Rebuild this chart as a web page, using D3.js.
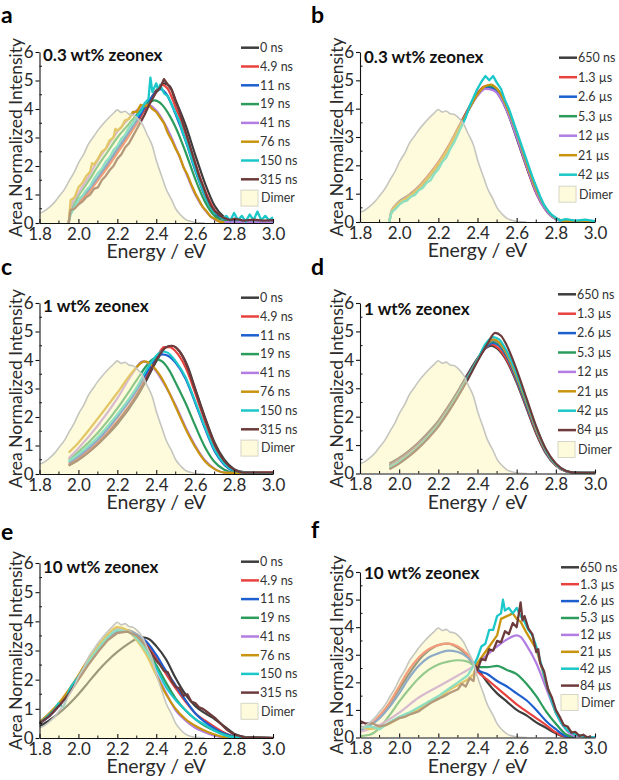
<!DOCTYPE html>
<html><head><meta charset="utf-8">
<script src="https://cdn.jsdelivr.net/npm/d3@7/dist/d3.min.js"></script>
<style>
body{margin:0;background:#fff}
svg{display:block}
text{font-family:Lato,"Open Sans",sans-serif}
</style>
</head><body>
<svg id="chart" width="619" height="780"></svg>
<script>
// ---------- shared values ----------
const xTicks = [1.8, 2.0, 2.2, 2.4, 2.6, 2.8, 3.0];
const xMinor = [1.9, 2.1, 2.3, 2.5, 2.7, 2.9];
const yTicks = [0, 1, 2, 3, 4, 5, 6];
const yMinor = [0.5, 1.5, 2.5, 3.5, 4.5, 5.5];
const nsLabels = ["0 ns", "4.9 ns", "11 ns", "19 ns", "41 ns", "76 ns", "150 ns", "315 ns"];
const usLabels7 = ["650 ns", "1.3 µs", "2.6 µs", "5.3 µs", "12 µs", "21 µs", "42 µs"];
const usLabels8 = ["650 ns", "1.3 µs", "2.6 µs", "5.3 µs", "12 µs", "21 µs", "42 µs", "84 µs"];
const colors = ["#3d3d3d", "#e8423e", "#1e5fcf", "#2c9c5c", "#b27de2", "#c9950f", "#1cc7c9", "#6d3b3b"];
const titles = ["0.3 wt% zeonex", "0.3 wt% zeonex", "1 wt% zeonex", "1 wt% zeonex", "10 wt% zeonex", "10 wt% zeonex"];

// Dimer reference spectrum (same in every panel)
const dimer = [[1.8,0.35],[1.82,0.4],[1.85,0.55],[1.88,0.75],[1.9,0.93],[1.93,1.2],[1.95,1.45],[1.98,1.8],[2.0,2.1],[2.03,2.45],[2.05,2.75],[2.08,3.05],[2.1,3.25],[2.13,3.5],[2.15,3.65],[2.18,3.85],[2.2,3.97],[2.22,3.88],[2.24,3.92],[2.26,3.82],[2.28,3.8],[2.3,3.7],[2.33,3.45],[2.35,3.15],[2.38,2.7],[2.4,2.2],[2.43,1.6],[2.45,1.2],[2.48,0.8],[2.5,0.5],[2.53,0.25],[2.55,0.13],[2.58,0.05],[2.6,0.02],[2.65,0]];

// ---------- panel a : 0.3 wt%, ns ----------
const pa0 = [[1.95,0],[1.96,0.45],[1.98,0.6],[2.0,0.75],[2.05,1.1],[2.1,1.55],[2.15,2.0],[2.2,2.5],[2.25,3.0],[2.3,3.5],[2.35,4.1],[2.4,4.65],[2.44,4.9],[2.47,4.8],[2.5,4.3],[2.55,3.45],[2.6,2.4],[2.65,1.4],[2.7,0.6],[2.75,0.2],[2.8,0.07],[2.9,0.05],[3.0,0.05]];
const pa1 = [[1.95,0],[1.96,0.4],[1.98,0.55],[2.0,0.7],[2.05,1.05],[2.1,1.5],[2.15,1.95],[2.2,2.45],[2.25,2.95],[2.3,3.5],[2.35,4.1],[2.4,4.6],[2.43,4.85],[2.46,4.7],[2.5,4.05],[2.55,3.15],[2.6,2.1],[2.65,1.15],[2.7,0.45],[2.75,0.15],[2.8,0.06],[3.0,0.05]];
const pa2 = [[1.95,0],[1.96,0.45],[2.0,0.8],[2.05,1.15],[2.1,1.6],[2.15,2.1],[2.2,2.6],[2.25,3.1],[2.3,3.6],[2.35,4.15],[2.4,4.6],[2.42,4.7],[2.45,4.55],[2.5,3.8],[2.55,2.9],[2.6,1.85],[2.65,0.95],[2.7,0.35],[2.75,0.1],[2.8,0.05],[3.0,0.05]];
const pa3 = [[1.95,0],[1.96,0.5],[1.98,0.7],[2.0,0.95],[2.05,1.45],[2.1,2.0],[2.15,2.5],[2.2,3.0],[2.25,3.4],[2.3,3.8],[2.35,4.15],[2.39,4.3],[2.43,4.15],[2.47,3.75],[2.5,3.35],[2.55,2.5],[2.6,1.55],[2.65,0.75],[2.7,0.25],[2.75,0.08],[2.8,0.04],[3.0,0.04]];
const pa4 = [[1.95,0],[1.96,0.55],[2.0,1.05],[2.05,1.6],[2.1,2.2],[2.15,2.7],[2.2,3.2],[2.25,3.6],[2.3,3.95],[2.36,4.15],[2.4,3.95],[2.45,3.4],[2.5,2.65],[2.55,1.8],[2.6,1.0],[2.65,0.45],[2.7,0.12],[2.75,0.03],[3.0,0.02]];
const pa5 = [[1.95,0],[1.96,0.8],[1.98,0.9],[2.0,1.25],[2.02,1.4],[2.04,1.65],[2.06,1.8],[2.07,2.1],[2.08,2.05],[2.1,2.25],[2.12,2.5],[2.14,2.6],[2.16,2.9],[2.18,3.0],[2.19,3.3],[2.2,3.25],[2.22,3.35],[2.24,3.6],[2.26,3.65],[2.28,3.9],[2.3,3.9],[2.32,4.15],[2.34,4.1],[2.36,4.15],[2.38,4.0],[2.4,3.9],[2.42,3.7],[2.44,3.5],[2.46,3.15],[2.48,2.9],[2.5,2.6],[2.52,2.35],[2.54,1.95],[2.56,1.7],[2.58,1.35],[2.6,1.05],[2.62,0.8],[2.64,0.55],[2.66,0.4],[2.68,0.22],[2.7,0.15],[2.72,0.06],[2.75,0.02]];
const pa6 = [[1.95,0],[1.96,0.3],[1.98,0.55],[2.0,0.8],[2.02,0.95],[2.04,1.15],[2.06,1.3],[2.08,1.55],[2.1,1.75],[2.12,1.9],[2.14,2.15],[2.16,2.3],[2.18,2.55],[2.2,2.7],[2.22,2.95],[2.24,3.1],[2.26,3.35],[2.28,3.5],[2.3,3.75],[2.32,3.9],[2.34,4.2],[2.36,4.35],[2.37,5.1],[2.38,4.6],[2.4,4.9],[2.41,4.65],[2.42,4.85],[2.44,4.55],[2.46,4.45],[2.48,4.15],[2.5,3.85],[2.52,3.55],[2.54,3.1],[2.56,2.75],[2.58,2.3],[2.6,1.9],[2.62,1.5],[2.64,1.15],[2.66,0.8],[2.68,0.55],[2.7,0.35],[2.72,0.3],[2.74,0.15],[2.76,0.25],[2.78,0.08],[2.8,0.35],[2.82,0.1],[2.84,0.25],[2.86,0.05],[2.88,0.3],[2.9,0.1],[2.92,0.4],[2.94,0.1],[2.96,0.25],[2.98,0.1],[3.0,0.2]];
const pa7 = [[1.95,0],[1.96,0.45],[1.98,0.5],[2.0,0.65],[2.02,0.75],[2.04,0.9],[2.06,1.0],[2.08,1.2],[2.1,1.25],[2.12,1.5],[2.14,1.65],[2.16,1.85],[2.18,2.0],[2.2,2.25],[2.22,2.4],[2.24,2.65],[2.26,2.8],[2.28,3.05],[2.3,3.3],[2.32,3.55],[2.34,3.8],[2.36,4.1],[2.38,4.35],[2.4,4.6],[2.42,4.75],[2.44,5.05],[2.46,4.85],[2.48,4.65],[2.5,4.25],[2.52,3.9],[2.54,3.45],[2.56,3.0],[2.58,2.55],[2.6,2.1],[2.62,1.65],[2.64,1.3],[2.66,0.92],[2.68,0.62],[2.7,0.42],[2.72,0.3],[2.74,0.2],[2.76,0.15],[2.78,0.1],[2.8,0.15],[2.85,0.08],[2.9,0.12],[2.95,0.08],[3.0,0.1]];

// ---------- panel b : 0.3 wt%, µs ----------
const pb0 = [[1.95,0],[1.96,0.35],[2.0,0.72],[2.05,0.95],[2.1,1.25],[2.15,1.65],[2.2,2.1],[2.25,2.65],[2.3,3.3],[2.35,3.95],[2.4,4.5],[2.44,4.75],[2.48,4.7],[2.52,4.35],[2.56,3.75],[2.6,2.95],[2.65,1.95],[2.7,1.05],[2.75,0.45],[2.8,0.12],[2.85,0.03],[3.0,0.02]];
const pb1 = [[1.95,0],[1.96,0.4],[2.0,0.7],[2.05,0.95],[2.1,1.25],[2.15,1.65],[2.2,2.1],[2.25,2.65],[2.3,3.3],[2.35,3.95],[2.4,4.55],[2.44,4.8],[2.48,4.75],[2.52,4.4],[2.56,3.8],[2.6,3.0],[2.65,1.95],[2.7,1.0],[2.75,0.4],[2.8,0.1],[2.85,0.02],[3.0,0.02]];
const pb2 = [[1.95,0],[1.96,0.35],[2.0,0.7],[2.05,0.92],[2.1,1.22],[2.15,1.6],[2.2,2.05],[2.25,2.6],[2.3,3.25],[2.35,3.9],[2.4,4.5],[2.44,4.75],[2.48,4.72],[2.52,4.4],[2.56,3.8],[2.6,3.0],[2.65,2.0],[2.7,1.05],[2.75,0.42],[2.8,0.11],[2.85,0.03],[3.0,0.02]];
const pb3 = [[1.95,0],[1.96,0.3],[2.0,0.62],[2.05,0.85],[2.1,1.15],[2.15,1.55],[2.2,2.0],[2.25,2.55],[2.3,3.2],[2.35,3.9],[2.4,4.5],[2.45,4.8],[2.49,4.75],[2.53,4.4],[2.57,3.75],[2.6,3.1],[2.65,2.05],[2.7,1.1],[2.75,0.45],[2.8,0.12],[2.85,0.03],[3.0,0.02]];
const pb4 = [[1.95,0],[1.96,0.35],[2.0,0.68],[2.05,0.9],[2.1,1.2],[2.15,1.6],[2.2,2.05],[2.25,2.6],[2.3,3.25],[2.35,3.9],[2.4,4.45],[2.44,4.7],[2.48,4.65],[2.52,4.35],[2.56,3.75],[2.6,3.0],[2.65,2.0],[2.7,1.05],[2.75,0.42],[2.8,0.11],[2.85,0.03],[3.0,0.02]];
const pb5 = [[1.95,0],[1.96,0.35],[2.0,0.68],[2.05,0.9],[2.1,1.2],[2.15,1.6],[2.2,2.05],[2.25,2.6],[2.3,3.25],[2.35,3.9],[2.4,4.5],[2.44,4.8],[2.47,4.85],[2.51,4.6],[2.55,4.05],[2.6,3.15],[2.65,2.1],[2.7,1.15],[2.75,0.48],[2.8,0.13],[2.85,0.03],[3.0,0.02]];
const pb6 = [[1.95,0],[1.96,0.35],[1.98,0.45],[2.0,0.6],[2.02,0.72],[2.04,0.75],[2.06,0.9],[2.08,0.95],[2.1,1.12],[2.12,1.2],[2.14,1.38],[2.16,1.47],[2.18,1.7],[2.2,1.85],[2.22,2.12],[2.24,2.27],[2.26,2.57],[2.28,2.8],[2.3,3.1],[2.32,3.4],[2.34,3.7],[2.36,4.1],[2.38,4.4],[2.4,4.7],[2.42,4.95],[2.44,5.15],[2.46,5.0],[2.48,5.15],[2.5,4.9],[2.52,4.7],[2.54,4.3],[2.56,4.0],[2.58,3.6],[2.6,3.2],[2.62,2.8],[2.64,2.4],[2.66,2.0],[2.68,1.6],[2.7,1.25],[2.72,0.9],[2.74,0.6],[2.76,0.4],[2.78,0.25],[2.8,0.15],[2.82,0.05],[2.85,0.1],[2.9,0.05],[2.95,0.08],[3.0,0.03]];

// ---------- panel c : 1 wt%, ns ----------
const pc0 = [[1.95,0.3],[2.0,0.5],[2.1,1.05],[2.2,1.75],[2.3,2.7],[2.35,3.3],[2.4,3.95],[2.45,4.45],[2.48,4.5],[2.52,4.3],[2.56,3.8],[2.6,3.0],[2.65,2.0],[2.7,1.1],[2.75,0.5],[2.8,0.17],[2.85,0.07],[2.9,0.05],[3.0,0.05]];
const pc1 = [[1.95,0.35],[2.0,0.55],[2.1,1.1],[2.2,1.85],[2.3,2.8],[2.35,3.4],[2.4,4.05],[2.44,4.45],[2.47,4.45],[2.5,4.3],[2.55,3.75],[2.6,2.85],[2.65,1.85],[2.7,0.95],[2.75,0.4],[2.8,0.13],[2.85,0.05],[3.0,0.05]];
const pc2 = [[1.95,0.4],[2.0,0.62],[2.1,1.2],[2.2,2.0],[2.3,2.95],[2.35,3.55],[2.4,4.05],[2.43,4.2],[2.46,4.15],[2.5,3.9],[2.55,3.35],[2.6,2.5],[2.65,1.6],[2.7,0.8],[2.75,0.32],[2.8,0.1],[2.85,0.04],[3.0,0.03]];
const pc3 = [[1.95,0.5],[2.0,0.78],[2.1,1.45],[2.2,2.3],[2.3,3.3],[2.35,3.8],[2.39,4.05],[2.43,3.95],[2.47,3.6],[2.5,3.2],[2.55,2.5],[2.6,1.7],[2.65,0.95],[2.7,0.42],[2.75,0.15],[2.8,0.05],[3.0,0.03]];
const pc4 = [[1.95,0.55],[2.0,0.9],[2.1,1.7],[2.2,2.65],[2.28,3.55],[2.33,3.95],[2.37,3.85],[2.4,3.6],[2.45,3.05],[2.5,2.4],[2.55,1.65],[2.6,1.0],[2.65,0.48],[2.7,0.18],[2.75,0.05],[3.0,0.02]];
const pc5 = [[1.95,0.75],[2.0,1.1],[2.1,1.95],[2.2,2.85],[2.28,3.6],[2.34,3.95],[2.38,3.8],[2.42,3.45],[2.46,2.95],[2.5,2.35],[2.55,1.6],[2.6,0.95],[2.65,0.45],[2.7,0.17],[2.75,0.05],[3.0,0.02]];
const pc6 = [[1.95,0.45],[2.0,0.7],[2.1,1.3],[2.2,2.1],[2.3,3.05],[2.35,3.65],[2.4,4.15],[2.43,4.3],[2.46,4.25],[2.5,3.95],[2.55,3.4],[2.6,2.55],[2.65,1.65],[2.7,0.85],[2.75,0.35],[2.8,0.12],[2.85,0.05],[3.0,0.03]];
const pc7 = [[1.95,0.3],[2.0,0.5],[2.1,1.05],[2.2,1.8],[2.3,2.75],[2.35,3.35],[2.4,4.0],[2.45,4.45],[2.48,4.5],[2.52,4.3],[2.56,3.75],[2.6,2.95],[2.65,1.95],[2.7,1.05],[2.75,0.45],[2.8,0.15],[2.85,0.05],[3.0,0.05]];

// ---------- panel d : 1 wt%, µs ----------
const pd0 = [[1.95,0.35],[2.0,0.55],[2.05,0.8],[2.1,1.1],[2.15,1.45],[2.2,1.85],[2.25,2.35],[2.3,2.9],[2.35,3.5],[2.4,4.05],[2.44,4.4],[2.47,4.5],[2.5,4.4],[2.55,3.95],[2.6,3.2],[2.65,2.3],[2.7,1.4],[2.75,0.7],[2.8,0.28],[2.85,0.08],[2.9,0.03],[3.0,0.02]];
const pd1 = [[1.95,0.3],[2.0,0.5],[2.05,0.75],[2.1,1.05],[2.15,1.4],[2.2,1.8],[2.25,2.3],[2.3,2.85],[2.35,3.45],[2.4,4.0],[2.44,4.4],[2.47,4.55],[2.5,4.45],[2.55,4.0],[2.6,3.25],[2.65,2.35],[2.7,1.45],[2.75,0.72],[2.8,0.28],[2.85,0.08],[2.9,0.03],[3.0,0.02]];
const pd2 = [[1.95,0.28],[2.0,0.48],[2.05,0.72],[2.1,1.02],[2.15,1.37],[2.2,1.77],[2.25,2.27],[2.3,2.82],[2.35,3.42],[2.4,4.0],[2.44,4.42],[2.48,4.6],[2.51,4.5],[2.55,4.1],[2.6,3.3],[2.65,2.4],[2.7,1.5],[2.75,0.75],[2.8,0.3],[2.85,0.09],[2.9,0.03],[3.0,0.02]];
const pd3 = [[1.95,0.26],[2.0,0.46],[2.05,0.7],[2.1,1.0],[2.15,1.35],[2.2,1.75],[2.25,2.25],[2.3,2.8],[2.35,3.4],[2.4,4.0],[2.44,4.45],[2.48,4.65],[2.51,4.55],[2.55,4.15],[2.6,3.35],[2.65,2.45],[2.7,1.52],[2.75,0.77],[2.8,0.3],[2.85,0.09],[2.9,0.03],[3.0,0.02]];
const pd4 = [[1.95,0.24],[2.0,0.44],[2.05,0.68],[2.1,0.98],[2.15,1.33],[2.2,1.73],[2.25,2.22],[2.3,2.78],[2.35,3.38],[2.4,4.0],[2.44,4.48],[2.48,4.7],[2.51,4.6],[2.55,4.2],[2.6,3.4],[2.65,2.5],[2.7,1.55],[2.75,0.78],[2.8,0.31],[2.85,0.09],[2.9,0.03],[3.0,0.02]];
const pd5 = [[1.95,0.22],[2.0,0.42],[2.05,0.66],[2.1,0.96],[2.15,1.31],[2.2,1.71],[2.25,2.2],[2.3,2.76],[2.35,3.36],[2.4,4.0],[2.44,4.5],[2.48,4.72],[2.51,4.62],[2.55,4.22],[2.6,3.42],[2.65,2.52],[2.7,1.57],[2.75,0.8],[2.8,0.32],[2.85,0.1],[2.9,0.03],[3.0,0.02]];
const pd6 = [[1.95,0.2],[2.0,0.4],[2.05,0.64],[2.1,0.94],[2.15,1.29],[2.2,1.69],[2.25,2.18],[2.3,2.74],[2.35,3.35],[2.4,4.0],[2.44,4.55],[2.48,4.8],[2.51,4.72],[2.55,4.3],[2.6,3.5],[2.65,2.58],[2.7,1.62],[2.75,0.82],[2.8,0.33],[2.85,0.1],[2.9,0.03],[3.0,0.02]];
const pd7 = [[1.95,0.15],[2.0,0.35],[2.05,0.6],[2.1,0.9],[2.15,1.25],[2.2,1.65],[2.25,2.15],[2.3,2.7],[2.35,3.3],[2.4,3.95],[2.45,4.55],[2.49,4.95],[2.52,4.85],[2.55,4.5],[2.6,3.65],[2.65,2.65],[2.7,1.65],[2.75,0.85],[2.8,0.35],[2.85,0.1],[2.9,0.03],[3.0,0.02]];

// ---------- panel e : 10 wt%, ns ----------
const pe0 = [[1.8,0.4],[1.85,0.6],[1.9,0.85],[1.95,1.15],[2.0,1.5],[2.05,1.9],[2.1,2.3],[2.15,2.65],[2.2,2.95],[2.25,3.2],[2.3,3.4],[2.33,3.45],[2.36,3.4],[2.4,3.15],[2.45,2.7],[2.5,2.05],[2.55,1.5],[2.6,1.1],[2.65,0.85],[2.7,0.65],[2.75,0.4],[2.8,0.15],[2.85,0.04],[2.9,0.01],[3.0,0]];
const pe1 = [[1.8,0.5],[1.85,0.75],[1.9,1.1],[1.95,1.55],[2.0,2.05],[2.05,2.55],[2.1,3.0],[2.15,3.4],[2.2,3.65],[2.25,3.7],[2.3,3.55],[2.35,3.25],[2.4,2.75],[2.45,2.2],[2.5,1.7],[2.55,1.25],[2.6,0.85],[2.65,0.6],[2.7,0.38],[2.75,0.18],[2.8,0.05],[2.85,0.01],[3.0,0]];
const pe2 = [[1.8,0.5],[1.85,0.75],[1.9,1.1],[1.95,1.55],[2.0,2.05],[2.05,2.55],[2.1,3.0],[2.15,3.4],[2.2,3.65],[2.25,3.7],[2.3,3.55],[2.35,3.3],[2.4,2.85],[2.45,2.3],[2.5,1.8],[2.55,1.3],[2.6,0.85],[2.65,0.55],[2.7,0.32],[2.75,0.15],[2.8,0.05],[2.85,0.01],[3.0,0]];
const pe3 = [[1.8,0.5],[1.85,0.8],[1.9,1.15],[1.95,1.6],[2.0,2.1],[2.05,2.65],[2.1,3.1],[2.15,3.5],[2.2,3.75],[2.25,3.7],[2.3,3.45],[2.35,3.05],[2.4,2.5],[2.45,1.9],[2.5,1.35],[2.55,0.95],[2.6,0.65],[2.65,0.42],[2.7,0.25],[2.75,0.12],[2.8,0.04],[3.0,0]];
const pe4 = [[1.8,0.5],[1.85,0.8],[1.9,1.15],[1.95,1.6],[2.0,2.1],[2.05,2.65],[2.1,3.1],[2.15,3.5],[2.2,3.75],[2.25,3.7],[2.3,3.4],[2.35,2.9],[2.4,2.2],[2.45,1.55],[2.5,0.95],[2.55,0.6],[2.6,0.35],[2.65,0.2],[2.7,0.08],[2.75,0.02],[3.0,0]];
const pe5 = [[1.8,0.55],[1.85,0.85],[1.9,1.2],[1.95,1.65],[2.0,2.15],[2.05,2.7],[2.1,3.15],[2.15,3.55],[2.2,3.8],[2.25,3.7],[2.3,3.35],[2.35,2.85],[2.4,2.15],[2.45,1.5],[2.5,1.0],[2.55,0.65],[2.6,0.42],[2.65,0.25],[2.7,0.12],[2.75,0.03],[3.0,0]];
const pe6 = [[1.8,0.5],[1.85,0.8],[1.88,1.0],[1.9,1.2],[1.92,1.05],[1.95,1.6],[2.0,2.1],[2.05,2.6],[2.1,3.05],[2.15,3.45],[2.2,3.7],[2.25,3.65],[2.3,3.4],[2.35,2.95],[2.4,2.4],[2.45,1.75],[2.5,1.3],[2.55,0.95],[2.6,0.65],[2.65,0.45],[2.7,0.25],[2.75,0.1],[2.8,0.03],[3.0,0]];
const pe7 = [[1.8,0.5],[1.85,0.75],[1.9,1.1],[1.95,1.5],[2.0,2.0],[2.05,2.5],[2.1,2.95],[2.15,3.35],[2.2,3.6],[2.25,3.65],[2.3,3.5],[2.35,3.15],[2.4,2.65],[2.42,2.5],[2.44,2.3],[2.46,2.25],[2.48,1.95],[2.5,1.75],[2.52,1.7],[2.54,1.45],[2.56,1.5],[2.58,1.25],[2.6,1.2],[2.62,1.05],[2.64,1.0],[2.66,0.9],[2.68,0.8],[2.7,0.7],[2.73,0.5],[2.76,0.3],[2.8,0.12],[2.85,0.03],[3.0,0]];

// ---------- panel f : 10 wt%, µs ----------
const pf0 = [[1.8,0.3],[1.85,0.45],[1.9,0.75],[1.95,1.2],[2.0,1.75],[2.05,2.3],[2.1,2.8],[2.15,3.15],[2.2,3.35],[2.25,3.4],[2.3,3.25],[2.35,2.95],[2.4,2.5],[2.45,2.0],[2.5,1.6],[2.55,1.3],[2.6,1.0],[2.65,0.8],[2.7,0.55],[2.75,0.35],[2.8,0.15],[2.85,0.02],[2.9,0]];
const pf1 = [[1.8,0.3],[1.85,0.45],[1.9,0.8],[1.95,1.25],[2.0,1.85],[2.05,2.45],[2.1,2.9],[2.15,3.2],[2.2,3.35],[2.25,3.4],[2.3,3.3],[2.35,3.0],[2.4,2.4],[2.45,2.1],[2.5,1.8],[2.55,1.5],[2.6,1.2],[2.65,0.95],[2.7,0.7],[2.75,0.45],[2.8,0.18],[2.85,0.03],[2.9,0]];
const pf2 = [[1.8,0.25],[1.9,0.7],[1.95,1.1],[2.0,1.6],[2.05,2.15],[2.1,2.6],[2.15,2.9],[2.2,3.05],[2.25,3.15],[2.3,3.1],[2.35,2.9],[2.4,2.45],[2.45,2.3],[2.5,2.05],[2.55,1.85],[2.6,1.6],[2.65,1.35],[2.7,1.0],[2.75,0.6],[2.8,0.3],[2.85,0.05],[2.9,0]];
const pf3 = [[1.8,0.05],[1.85,0.1],[1.9,0.35],[1.95,0.8],[2.0,1.3],[2.05,1.75],[2.1,2.15],[2.15,2.45],[2.2,2.65],[2.25,2.75],[2.3,2.8],[2.35,2.75],[2.4,2.55],[2.45,2.55],[2.5,2.6],[2.55,2.45],[2.6,2.3],[2.65,1.95],[2.7,1.5],[2.75,0.95],[2.8,0.5],[2.85,0.12],[2.9,0]];
const pf4 = [[1.8,0.2],[1.9,0.45],[2.0,0.9],[2.1,1.45],[2.2,1.85],[2.3,2.25],[2.35,2.45],[2.4,2.7],[2.45,3.0],[2.5,3.3],[2.55,3.55],[2.6,3.7],[2.62,3.65],[2.65,3.35],[2.7,2.7],[2.75,1.8],[2.8,0.9],[2.85,0.3],[2.9,0.05],[3.0,0]];
const pf5 = [[1.8,0.4],[1.85,0.3],[1.9,0.35],[1.95,0.5],[2.0,0.7],[2.05,0.85],[2.1,1.0],[2.15,1.3],[2.2,1.4],[2.25,1.7],[2.3,1.9],[2.35,2.1],[2.38,2.3],[2.4,2.7],[2.45,3.2],[2.5,3.7],[2.52,4.3],[2.55,4.4],[2.58,4.5],[2.6,4.3],[2.62,4.2],[2.65,3.8],[2.7,3.2],[2.75,2.0],[2.8,0.9],[2.85,0.35],[2.9,0.1],[2.95,0.02]];
const pf6 = [[1.8,0.35],[1.85,0.4],[1.9,0.3],[1.95,0.55],[2.0,0.75],[2.05,0.9],[2.1,1.1],[2.15,1.3],[2.2,1.5],[2.25,1.75],[2.3,2.0],[2.35,2.25],[2.38,2.6],[2.4,2.9],[2.42,3.3],[2.44,3.4],[2.46,3.9],[2.48,3.9],[2.5,4.4],[2.52,4.5],[2.53,5.0],[2.54,4.6],[2.56,4.7],[2.58,4.5],[2.6,4.7],[2.62,4.4],[2.64,4.2],[2.66,3.9],[2.68,3.7],[2.7,3.3],[2.72,2.8],[2.75,2.0],[2.78,1.3],[2.8,0.9],[2.83,0.5],[2.86,0.25],[2.9,0.1],[2.95,0.02],[3.0,0]];
const pf7 = [[1.8,0.6],[1.83,0.5],[1.86,0.52],[1.9,0.4],[1.93,0.45],[1.96,0.55],[2.0,0.7],[2.03,0.75],[2.06,0.85],[2.1,0.95],[2.13,1.1],[2.16,1.25],[2.2,1.4],[2.23,1.5],[2.26,1.62],[2.3,1.75],[2.32,1.95],[2.34,1.85],[2.36,2.15],[2.38,2.05],[2.39,2.6],[2.4,2.45],[2.42,2.85],[2.44,2.8],[2.46,3.2],[2.48,3.15],[2.5,3.5],[2.52,3.45],[2.54,3.85],[2.56,3.75],[2.58,4.15],[2.6,4.0],[2.62,4.9],[2.63,4.25],[2.64,4.4],[2.66,3.95],[2.68,3.75],[2.7,3.1],[2.71,3.2],[2.72,2.7],[2.74,2.4],[2.76,1.75],[2.78,1.45],[2.8,1.0],[2.82,0.75],[2.84,0.45],[2.86,0.4],[2.88,0.18],[2.9,0.2],[2.92,0.06],[2.94,0.1],[2.96,0],[2.98,0.05]];

const seriesA = [pa0,pa1,pa2,pa3,pa4,pa5,pa6,pa7];
const seriesB = [pb0,pb1,pb2,pb3,pb4,pb5,pb6];
const seriesC = [pc0,pc1,pc2,pc3,pc4,pc5,pc6,pc7];
const seriesD = [pd0,pd1,pd2,pd3,pd4,pd5,pd6,pd7];
const seriesE = [pe0,pe1,pe2,pe3,pe4,pe5,pe6,pe7];
const seriesF = [pf0,pf1,pf2,pf3,pf4,pf5,pf6,pf7];

// ---------- layout (pixels) ----------
const layout = [
  {id:"a", px0:39.5, px1:273, py0:223, py6:52,  lx:241, ly0:47.7, ldy:18.8, letterX:1,   letterY:23,  titleX:43,  titleY:61},
  {id:"b", px0:360,  px1:595, py0:222, py6:52,  lx:559, ly0:57.7, ldy:19.5, letterX:311, letterY:23,  titleX:364, titleY:63},
  {id:"c", px0:39.5, px1:273, py0:474, py6:303, lx:241, ly0:297.7,ldy:18.8, letterX:1,   letterY:275, titleX:43,  titleY:312},
  {id:"d", px0:360,  px1:595, py0:473.5,py6:303,lx:558, ly0:294.3,ldy:19.4, letterX:311, letterY:275, titleX:364, titleY:315},
  {id:"e", px0:39.5, px1:273, py0:738, py6:563, lx:241, ly0:561.7,ldy:18.7, letterX:1,   letterY:540, titleX:43,  titleY:573},
  {id:"f", px0:360,  px1:595, py0:737.5,py6:572,lx:561, ly0:567.3,ldy:16.9, letterX:311, letterY:538, titleX:364, titleY:579}
];
const panelSeries = [seriesA, seriesB, seriesC, seriesD, seriesE, seriesF];
const panelLabels = [nsLabels, usLabels7, nsLabels, usLabels8, nsLabels, usLabels8];
// series drawn as raw (noisy) traces rather than smoothed
const noisy = {a:[5,6,7], b:[6], e:[7], f:[5,6,7]};

const dimerFill = "#fdf7bb";
const svg = d3.select("#chart");
const defs = svg.append("defs");

layout.forEach((L, pi) => {
  const x = d3.scaleLinear().domain([1.8, 3.0]).range([L.px0, L.px1]);
  const y = d3.scaleLinear().domain([0, 6]).range([L.py0, L.py6]);
  const g = svg.append("g");

  defs.append("clipPath").attr("id", "clip" + L.id).append("rect")
    .attr("x", L.px0).attr("y", L.py6 - 4)
    .attr("width", L.px1 - L.px0 + 1).attr("height", L.py0 - L.py6 + 4);

  const plot = g.append("g").attr("clip-path", `url(#clip${L.id})`);
  const line = d3.line().x(d => x(d[0])).y(d => y(d[1])).curve(d3.curveMonotoneX);
  const rawLine = d3.line().x(d => x(d[0])).y(d => y(d[1])).curve(d3.curveLinear);
  const nz = noisy[L.id] || [];
  panelSeries[pi].forEach((s, i) => {
    const isNoisy = nz.includes(i);
    plot.append("path").attr("d", (isNoisy ? rawLine : line)(s)).attr("fill", "none")
      .attr("stroke", colors[i]).attr("stroke-width", isNoisy ? 2.3 : 2.2)
      .attr("stroke-linejoin", "round");
  });
  const area = d3.area().x(d => x(d[0])).y0(y(0)).y1(d => y(d[1])).curve(d3.curveMonotoneX);
  plot.append("path").attr("d", area(dimer)).attr("fill", dimerFill).attr("fill-opacity", 0.5);
  plot.append("path").attr("d", line(dimer)).attr("fill", "none")
    .attr("stroke", "#c6c6c0").attr("stroke-width", 1.6);

  // axes
  const yAxis = d3.axisLeft(y).tickValues(yTicks).tickSizeInner(4).tickSizeOuter(0)
    .tickPadding(2).tickFormat(d3.format("d"));
  const ya = g.append("g").attr("transform", `translate(${L.px0},0)`).call(yAxis);
  ya.selectAll("text").attr("font-size", 17).attr("fill", "#2a2a2a").attr("font-family", "Lato, sans-serif");
  ya.selectAll("line,path").attr("stroke", "#111").attr("stroke-width", 1.1);
  ya.selectAll(".minor").data(yMinor).enter().append("line").attr("class", "minor")
    .attr("x1", 0).attr("x2", 2.5).attr("y1", d => y(d)).attr("y2", d => y(d))
    .attr("stroke", "#111").attr("stroke-width", 1);

  const xAxis = d3.axisBottom(x).tickValues(xTicks).tickSizeInner(-4).tickSizeOuter(0)
    .tickFormat(d3.format(".1f"));
  const xa = g.append("g").attr("transform", `translate(0,${L.py0})`).call(xAxis);
  xa.selectAll("text").attr("y", 11).attr("dy", "0.35em").attr("font-size", 17)
    .attr("fill", "#2a2a2a").attr("font-family", "Lato, sans-serif");
  xa.selectAll("line,path").attr("stroke", "#111").attr("stroke-width", 1.1);
  xa.selectAll(".minor").data(xMinor).enter().append("line").attr("class", "minor")
    .attr("x1", d => x(d)).attr("x2", d => x(d)).attr("y1", 0).attr("y2", -2.5)
    .attr("stroke", "#111").attr("stroke-width", 1);

  // axis titles
  g.append("text").attr("x", (L.px0 + L.px1) / 2).attr("y", L.py0 + 35)
    .attr("text-anchor", "middle").attr("font-size", 19.5).attr("fill", "#2a2a2a")
    .text("Energy / eV");
  g.append("text")
    .attr("transform", `translate(${L.px0 - 17.5},${(L.py0 + L.py6) / 2}) rotate(-90)`)
    .attr("text-anchor", "middle").attr("font-size", 17.5).attr("fill", "#2a2a2a")
    .text("Area Normalized Intensity");

  // panel letter & title
  g.append("text").attr("x", L.letterX).attr("y", L.letterY)
    .attr("font-family", "Liberation Sans, Arial, sans-serif").attr("font-weight", "bold")
    .attr("font-size", 23).attr("fill", "#000").text(L.id);
  g.append("text").attr("x", L.titleX).attr("y", L.titleY)
    .attr("font-weight", "bold").attr("font-size", 17).attr("fill", "#111")
    .text(titles[pi]);

  // legend
  const labels = panelLabels[pi];
  const lg = g.append("g");
  labels.forEach((lab, i) => {
    const yy = L.ly0 + i * L.ldy;
    lg.append("line").attr("x1", L.lx).attr("x2", L.lx + 18).attr("y1", yy).attr("y2", yy)
      .attr("stroke", colors[i]).attr("stroke-width", 2.5);
    lg.append("text").attr("x", L.lx + 19).attr("y", yy).attr("dy", "0.35em")
      .attr("font-size", 12.5).attr("fill", "#333").text(lab);
  });
  const yd = L.ly0 + labels.length * L.ldy;
  lg.append("rect").attr("x", L.lx).attr("y", yd - 8).attr("width", 17).attr("height", 16)
    .attr("fill", "#fefbdc").attr("stroke", "#d6d6c6").attr("stroke-width", 1);
  lg.append("text").attr("x", L.lx + 20).attr("y", yd).attr("dy", "0.35em")
    .attr("font-size", 12.5).attr("fill", "#333").text("Dimer");
});
</script>
</body></html>
